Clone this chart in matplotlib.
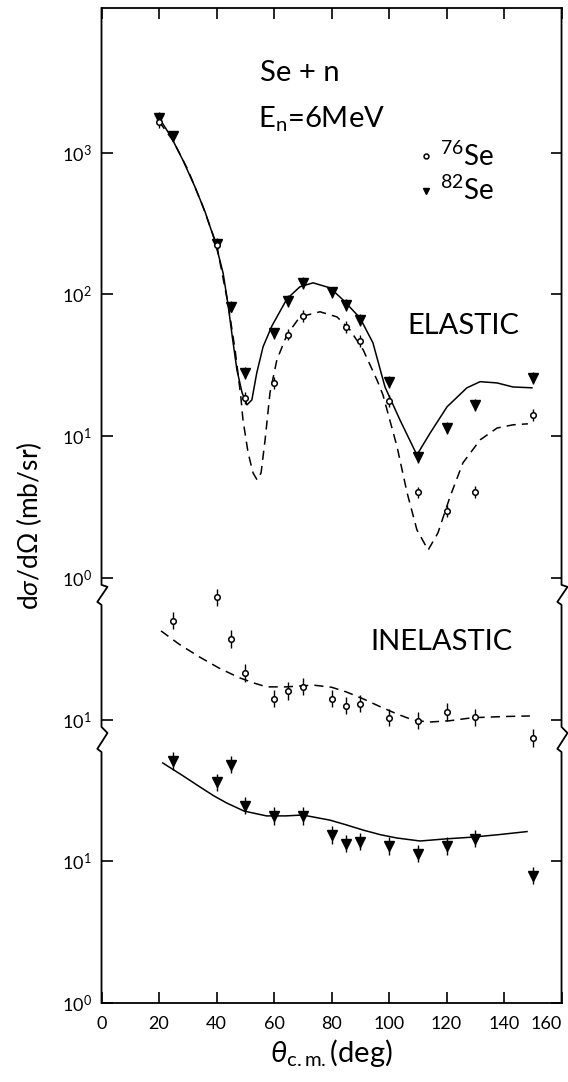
import matplotlib.pyplot as plt
from matplotlib.lines import Line2D

plt.rcParams['font.family'] = ['Lato', 'DejaVu Sans']
plt.rcParams['mathtext.fontset'] = 'custom'
plt.rcParams['mathtext.rm'] = 'Lato'
plt.rcParams['mathtext.it'] = 'Lato:italic'

# each block is drawn shifted up by a factor so three panels share one log axis
ELASTIC_SCALE = 1e3
INEL76_SCALE = 10.0
INEL82_SCALE = 1.0

# elastic data (mb/sr)
el82_deg = [20, 25, 40, 45, 50, 60, 65, 70, 80, 85, 90, 100, 110, 120, 130, 150]
el82_val = [1760, 1300, 228, 82, 28, 53, 90, 120, 103, 84, 66, 24, 7.1, 11.4, 16.6, 25.8]
el76_deg = [20, 40, 50, 60, 65, 70, 85, 90, 100, 110, 120, 130, 150]
el76_val = [1650, 222, 18.6, 23.7, 52, 70.5, 59, 47, 17.7, 4.0, 2.97, 4.04, 14.1]

# elastic calculations
el82_fit_deg = [20, 24.2, 28.3, 32.5, 36, 39.5, 42.3, 44, 45.5, 47.1, 48.9, 50.6, 52.3, 54,
                56.2, 59.3, 64.5, 69, 73.6, 79.5, 84, 89.9, 94.4, 98.6, 103.8, 109.7,
                114.3, 120.2, 127.1, 131.7, 137.6, 143.1, 149.7]
el82_fit_val = [1762, 1291, 885, 573, 383, 236, 141, 85, 50, 29.3, 20.2, 16.6, 18.0, 27.9,
                42.7, 60, 92.9, 113, 120.5, 111, 91.4, 68.2, 45.5, 22.2, 13.0, 7.36,
                10.5, 16.1, 21.9, 24.2, 23.7, 22.2, 21.9]
el76_fit_deg = [20, 25, 30, 35, 40, 44, 46.5, 48.5, 49.2, 51, 52.7, 54.1, 55.5, 56.9, 58.6,
                61, 64.5, 69, 76, 81.9, 86.4, 91, 95.8, 97.9, 102.8, 106.3, 109.7, 113.6,
                117, 121.2, 125.7, 131.7, 137.6, 143.1, 148.3]
el76_fit_val = [1660, 1202, 760, 430, 225, 86, 40, 18.6, 13.0, 7.6, 5.5, 4.91, 5.5, 9.4,
                20.2, 34.5, 51.8, 69.3, 75.3, 69.3, 56.2, 40.6, 24.9, 19.5, 8.4, 3.97, 2.18,
                1.57, 2.07, 3.72, 6.47, 9.4, 11.4, 12.0, 12.2]

# inelastic data (mb/sr)
in76_deg = [25, 40, 45, 50, 60, 65, 70, 80, 85, 90, 100, 110, 120, 130, 150]
in76_val = [49.7, 73, 37, 21.3, 14, 15.9, 17, 14, 12.5, 12.9, 10.3, 9.8, 11.3, 10.4, 7.4]
in82_deg = [25, 40, 45, 50, 60, 70, 80, 85, 90, 100, 110, 120, 130, 150]
in82_val = [51, 36, 48, 24.6, 20.9, 20.9, 15.3, 13.3, 13.7, 12.8, 11.3, 12.8, 14.4, 7.9]

in76_fit_deg = [20.7, 27, 34, 41, 48, 53, 57.4, 64.4, 73.6, 80, 85, 91, 97, 103, 108.5, 114,
                121, 129, 140, 149]
in76_fit_val = [42.2, 34, 27.7, 23, 19.7, 18.1, 17.0, 17.0, 17.5, 16.9, 15.7, 14.0, 12.3,
                10.9, 9.9, 9.6, 9.8, 10.3, 10.5, 10.6]
in82_fit_deg = [21.3, 28, 34.3, 39, 43.5, 49.6, 57.4, 64, 70, 79.5, 85, 91, 97, 102.7, 110.8,
                120, 129, 138, 148]
in82_fit_val = [49.4, 40.5, 33.4, 29.0, 25.8, 22.6, 20.9, 20.9, 21.2, 19.5, 18.1, 16.6,
                15.4, 14.6, 13.9, 14.4, 14.8, 15.4, 16.2]

el_err = 0.10
in_err = 0.15

x_ticks = [0, 20, 40, 60, 80, 100, 120, 140, 160]
y_ticks = [1, 10, 100, 1e3, 1e4, 1e5, 1e6]
y_ticklabels = ['$10^0$', '$10^1$', '$10^1$', '$10^0$', '$10^1$', '$10^2$', '$10^3$']


def scaled(vals, s):
    return [v * s for v in vals]


def errs(vals, s, f):
    lo = [v * s - v * s / (1 + f) for v in vals]
    hi = [v * s * (1 + f) - v * s for v in vals]
    return [lo, hi]


fig = plt.figure(figsize=(5.68, 10.82), dpi=100)
ax = fig.add_axes([0.1787, 0.0730, 0.8099, 0.9196])
ax.set_yscale('log')
ax.set_xlim(0, 160)
ax.set_ylim(1, 10 ** 7.02)

lw = 1.1
dash = (0, (6, 4))

# elastic
ax.plot(el82_fit_deg, scaled(el82_fit_val, ELASTIC_SCALE), 'k-', lw=lw)
ax.plot(el76_fit_deg, scaled(el76_fit_val, ELASTIC_SCALE), 'k', ls=dash, lw=lw)
ax.errorbar(el82_deg, scaled(el82_val, ELASTIC_SCALE), yerr=errs(el82_val, ELASTIC_SCALE, el_err),
            fmt='v', color='k', ms=6.5, elinewidth=1, capsize=0)
ax.errorbar(el76_deg, scaled(el76_val, ELASTIC_SCALE), yerr=errs(el76_val, ELASTIC_SCALE, el_err),
            fmt='o', color='k', mfc='white', ms=4, mew=1.1, elinewidth=1, capsize=0)

# inelastic
ax.plot(in76_fit_deg, scaled(in76_fit_val, INEL76_SCALE), 'k', ls=dash, lw=lw)
ax.plot(in82_fit_deg, scaled(in82_fit_val, INEL82_SCALE), 'k-', lw=lw)
ax.errorbar(in76_deg, scaled(in76_val, INEL76_SCALE), yerr=errs(in76_val, INEL76_SCALE, in_err),
            fmt='o', color='k', mfc='white', ms=4, mew=1.1, elinewidth=1, capsize=0)
ax.errorbar(in82_deg, scaled(in82_val, INEL82_SCALE), yerr=errs(in82_val, INEL82_SCALE, in_err),
            fmt='v', color='k', ms=6.5, elinewidth=1, capsize=0)

# ticks on all sides, pointing in
ax.set_xticks(x_ticks)
ax.set_yticks(y_ticks)
ax.set_yticklabels(y_ticklabels)
ax.minorticks_off()
ax.tick_params(direction='in', length=8, width=1.2, top=True, right=True,
               labelsize=13, pad=7)
ax.tick_params(axis='x', pad=9)
ax.get_xticklabels()[-1].set_ha('right')

# spines with zigzag breaks drawn by hand
for side in ['left', 'right']:
    ax.spines[side].set_visible(False)
for side in ['top', 'bottom']:
    ax.spines[side].set_linewidth(1.3)

breaks = [(2.950, 2.936, 2.830, 2.809), (1.948, 1.905, 1.793, 1.771)]
kx = 0.013
for x0 in [0.0, 1.0]:
    xs = [x0]
    ys = [10 ** 7.02]
    for b in breaks:
        xs += [x0, x0 + kx, x0 - 0.7 * kx, x0]
        ys += [10 ** b[0], 10 ** b[1], 10 ** b[2], 10 ** b[3]]
    xs.append(x0)
    ys.append(1)
    ax.plot(xs, ys, 'k-', lw=1.3, transform=ax.get_yaxis_transform(), clip_on=False)

ax.text(0.345, 0.927, 'Se + n', transform=ax.transAxes, fontsize=21)
ax.text(0.341, 0.880, r'E$_\mathregular{n}$=6MeV', transform=ax.transAxes, fontsize=21)
ax.text(0.664, 0.680, 'ELASTIC', transform=ax.transAxes, fontsize=21, ha='left', va='center')
ax.text(0.584, 0.363, 'INELASTIC', transform=ax.transAxes, fontsize=21, ha='left', va='center')

handles = [Line2D([], [], ls='none', marker='o', color='k', mfc='white', ms=3.5, mew=1.1),
           Line2D([], [], ls='none', marker='v', color='k', ms=5)]
ax.legend(handles, ['$^{76}$Se', '$^{82}$Se'], loc='upper left', bbox_to_anchor=(0.69, 0.866),
          frameon=False, fontsize=20, handlelength=0.5, handletextpad=0.25,
          labelspacing=0.2, borderpad=0, borderaxespad=0)

ax.set_xlabel(r'$\theta_\mathregular{c.m.}$(deg)', fontsize=21, labelpad=4)
ax.set_ylabel(r'd$\sigma$/d$\Omega$ (mb/sr)', fontsize=19)
ax.yaxis.set_label_coords(-0.125, 0.48)

fig.savefig('out.png', dpi=100)
